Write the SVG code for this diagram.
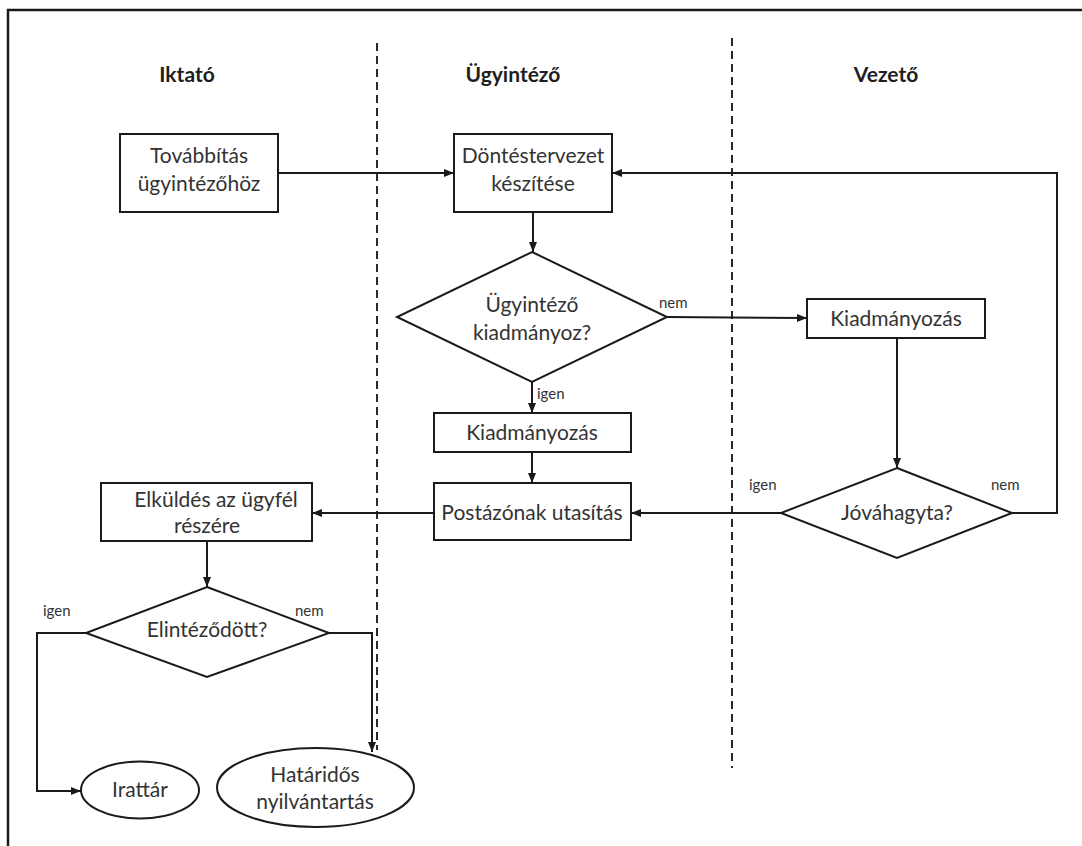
<svg xmlns="http://www.w3.org/2000/svg" width="1082" height="846" viewBox="0 0 1082 846">
<style>
  .shape { fill: #ffffff; stroke: #1a1a1a; stroke-width: 2; }
  .conn { fill: none; stroke: #1a1a1a; stroke-width: 2; }
  .lane { fill: none; stroke: #2a2a2a; stroke-width: 2; stroke-dasharray: 8 5; }
  .t { font-family: Lato, "Open Sans", sans-serif; font-size: 21px; fill: #333333; text-anchor: middle; }
  .h { font-family: Lato, "Open Sans", sans-serif; font-size: 21px; font-weight: bold; fill: #1e1e1e; text-anchor: middle; }
  .lbl { font-family: Lato, "Open Sans", sans-serif; font-size: 15px; fill: #333333; }
</style>
<defs>
  <marker id="arr" viewBox="0 0 10 10" refX="10" refY="5" markerWidth="10" markerHeight="10" markerUnits="userSpaceOnUse" orient="auto">
    <path d="M0,1 L10,5 L0,9 Z" fill="#1a1a1a"/>
  </marker>
</defs>
<rect x="0" y="0" width="1082" height="846" fill="#ffffff"/>
<rect x="8" y="10" width="1100" height="900" fill="none" stroke="#1a1a1a" stroke-width="2.5"/>

<g id="lanes">
  <line class="lane" x1="377" y1="43" x2="377" y2="750"/>
  <line class="lane" x1="732" y1="38" x2="732" y2="768"/>
  <text class="h" x="187" y="82">Iktató</text>
  <text class="h" x="513" y="82">Ügyintéző</text>
  <text class="h" x="886" y="82">Vezető</text>
</g>

<g id="connectors">
  <path class="conn" d="M278,173 H454" marker-end="url(#arr)"/>
  <path class="conn" d="M1012,513 H1057 V173 H612" marker-end="url(#arr)"/>
  <path class="conn" d="M533,212 V252" marker-end="url(#arr)"/>
  <path class="conn" d="M667,317 L807,318" marker-end="url(#arr)"/>
  <path class="conn" d="M532,382 V413" marker-end="url(#arr)"/>
  <path class="conn" d="M532,452 V483" marker-end="url(#arr)"/>
  <path class="conn" d="M897,338 V468" marker-end="url(#arr)"/>
  <path class="conn" d="M781,513 H631" marker-end="url(#arr)"/>
  <path class="conn" d="M434,513 H312" marker-end="url(#arr)"/>
  <path class="conn" d="M207,541 V587" marker-end="url(#arr)"/>
  <path class="conn" d="M86,633 H37 V791 H81" marker-end="url(#arr)"/>
  <path class="conn" d="M329,633 H372 V752" marker-end="url(#arr)"/>
  <text class="lbl" x="659" y="308">nem</text>
  <text class="lbl" x="537" y="399">igen</text>
  <text class="lbl" x="749" y="490">igen</text>
  <text class="lbl" x="991" y="490">nem</text>
  <text class="lbl" x="43" y="616">igen</text>
  <text class="lbl" x="295" y="616">nem</text>
</g>

<g id="n-tovabbitas">
  <rect class="shape" x="120" y="134" width="158" height="78"/>
  <text class="t" x="199" y="163">Továbbítás</text>
  <text class="t" x="199" y="191">ügyintézőhöz</text>
</g>

<g id="n-dontestervezet">
  <rect class="shape" x="454" y="134" width="158" height="78"/>
  <text class="t" x="533" y="163">Döntéstervezet</text>
  <text class="t" x="533" y="191">készítése</text>
</g>

<g id="n-ugyintezo-kiadmanyoz">
  <polygon class="shape" points="532,252 667,317 532,382 397,317"/>
  <text class="t" x="532" y="312">Ügyintéző</text>
  <text class="t" x="532" y="340">kiadmányoz?</text>
</g>

<g id="n-kiadmanyozas-u">
  <rect class="shape" x="434" y="413" width="197" height="39"/>
  <text class="t" x="532" y="440">Kiadmányozás</text>
</g>

<g id="n-postazonak">
  <rect class="shape" x="434" y="483" width="197" height="57"/>
  <text class="t" x="532" y="520">Postázónak utasítás</text>
</g>

<g id="n-kiadmanyozas-v">
  <rect class="shape" x="807" y="299" width="178" height="39"/>
  <text class="t" x="896" y="326">Kiadmányozás</text>
</g>

<g id="n-jovahagyta">
  <polygon class="shape" points="897,468 1012,513 897,558 781,513"/>
  <text class="t" x="897" y="520">Jóváhagyta?</text>
</g>

<g id="n-elkuldes">
  <rect class="shape" x="101" y="483" width="211" height="58"/>
  <text class="t" x="216" y="507">Elküldés az ügyfél</text>
  <text class="t" x="207" y="533">részére</text>
</g>

<g id="n-elintezodott">
  <polygon class="shape" points="207,587 329,633 207,677 86,633"/>
  <text class="t" x="207" y="637">Elintéződött?</text>
</g>

<g id="n-irattar">
  <ellipse class="shape" cx="140" cy="790" rx="59" ry="28.5"/>
  <text class="t" x="140" y="797">Irattár</text>
</g>

<g id="n-hataridos">
  <ellipse class="shape" cx="315.5" cy="787.5" rx="98.5" ry="39.5"/>
  <text class="t" x="315" y="782">Határidős</text>
  <text class="t" x="315" y="809">nyilvántartás</text>
</g>
</svg>
